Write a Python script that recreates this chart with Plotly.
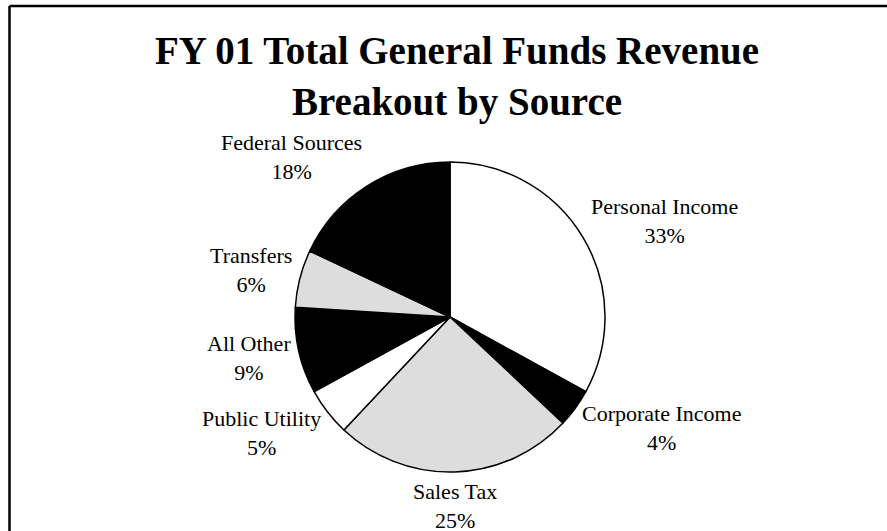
import math
import plotly.graph_objects as go

categories = ["Personal Income", "Corporate Income", "Sales Tax", "Public Utility",
              "All Other", "Transfers", "Federal Sources"]
values = [33, 4, 25, 5, 9, 6, 18]
colors = ["#FFFFFF", "#000000", "#DDDDDD", "#FFFFFF", "#000000", "#DDDDDD", "#000000"]

W, H = 887, 531
cx, cy, r = 450, 317, 155
gap = 6
half_h = 28
FONT = "Liberation Serif"

fig = go.Figure(go.Pie(
    labels=categories,
    values=values,
    sort=False,
    direction="clockwise",
    rotation=0,
    marker=dict(colors=colors, line=dict(color="#000000", width=1.5)),
    textinfo="none",
    domain=dict(x=[(cx - r) / W, (cx + r) / W], y=[(H - cy - r) / H, (H - cy + r) / H]),
    showlegend=False,
    hoverinfo="skip",
))

# data labels placed just outside each slice, at the slice's mid-angle
total = sum(values)
annotations = []
cum = 0
for lab, v in zip(categories, values):
    mid = (cum + v / 2) / total * 2 * math.pi
    cum += v
    s, c = math.sin(mid), math.cos(mid)
    px = cx + (r + gap) * s
    py = cy - (r + gap) * c - half_h * c
    xa = "left" if s > 0.3 else ("right" if s < -0.3 else "center")
    annotations.append(dict(
        x=px / W, y=1 - py / H, xref="paper", yref="paper",
        xanchor=xa, yanchor="middle", align="center", showarrow=False,
        text=f"{lab}<br>{round(v / total * 100)}%",
        font=dict(family=FONT, size=22, color="#000000"),
    ))

fig.update_layout(
    width=W, height=H,
    margin=dict(l=0, r=0, t=0, b=0),
    paper_bgcolor="#FFFFFF",
    plot_bgcolor="#FFFFFF",
    title=dict(
        text="<b>FY 01 Total General Funds Revenue<br>Breakout by Source</b>",
        font=dict(family=FONT, size=39, color="#000000"),
        x=457 / W, xanchor="center", xref="paper",
        y=0.879, yanchor="top", yref="container",
    ),
    annotations=annotations,
    shapes=[
        dict(type="line", xref="paper", yref="paper", x0=9.5 / W, x1=1, y0=1 - 6 / H, y1=1 - 6 / H,
             line=dict(color="#000000", width=2.5)),
        dict(type="line", xref="paper", yref="paper", x0=9.5 / W, x1=9.5 / W, y0=0, y1=1 - 6 / H,
             line=dict(color="#000000", width=2.5)),
    ],
)

fig.write_html("out.html", config={"displayModeBar": False},
               post_script="document.body.style.margin='0';")
